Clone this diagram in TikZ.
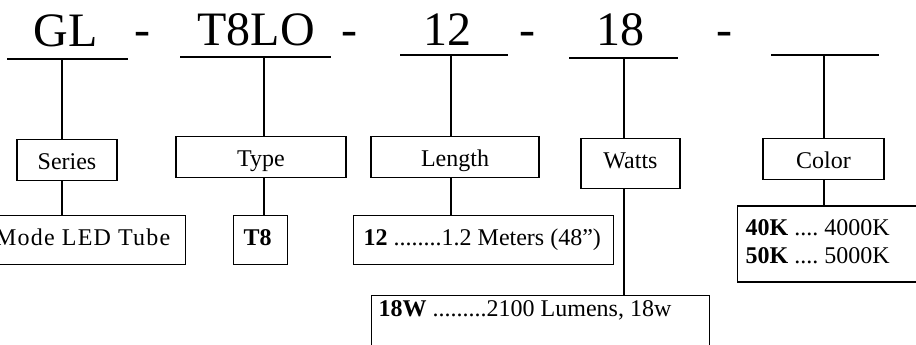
\documentclass[tikz,border=0pt]{standalone}
\usepackage{fontspec}
\setmainfont{Liberation Serif}
\usetikzlibrary{positioning, calc}
\frenchspacing

\begin{document}
\begin{tikzpicture}[x=1pt, y=-1pt, line width=1.4pt,
    code/.style={font=\fontsize{48}{56}\selectfont, inner sep=0pt, anchor=base},
    boxtext/.style={draw, font=\fontsize{24}{28}\selectfont\frenchspacing, inner ysep=0pt},
    labelbox/.style={boxtext, inner xsep=0pt, anchor=north, text height=30pt, text depth=11pt},
    descbox/.style={boxtext, inner xsep=10pt, anchor=north west, text height=30pt, text depth=19pt}]
    \useasboundingbox (0,0) rectangle (916,345);

    % Code
    \node[code] (gl) at (65.5,47) {GL};
    \node[code] (dash1) at (142,46) {-};
    \node[code] (t8lo) at (256,46) {T8LO};
    \node[code] (dash2) at (349,46) {-};
    \node[code] (twelve) at (447,46) {12};
    \node[code] (dash3) at (527,46) {-};
    \node[code] (eighteen) at (620,46) {18};
    \node[code] (dash4) at (724,46) {-};

    % Garis bawah
    \coordinate (gl-a) at (7,59);      \coordinate (gl-b) at (128,59);    \coordinate (gl-s) at (62,59);
    \coordinate (t8lo-a) at (180,57);  \coordinate (t8lo-b) at (331,57);  \coordinate (t8lo-s) at (264,57);
    \coordinate (len-a) at (400,55);   \coordinate (len-b) at (508,55);   \coordinate (len-s) at (451,55);
    \coordinate (watt-a) at (569,58);  \coordinate (watt-b) at (678,58);  \coordinate (watt-s) at (624,58);
    \coordinate (col-a) at (771,55);   \coordinate (col-b) at (879,55);   \coordinate (col-s) at (824,55);
    \draw (gl-a) -- (gl-b);
    \draw (t8lo-a) -- (t8lo-b);
    \draw (len-a) -- (len-b);
    \draw (watt-a) -- (watt-b);
    \draw (col-a) -- (col-b);

    % Kotak judul
    \node[labelbox, minimum width=100pt] (series) at (67,139) {Series};
    \node[labelbox, minimum width=170pt] (type) at (261,136) {Type};
    \node[labelbox, minimum width=168pt] (length) at (455,136) {Length};
    \node[labelbox, minimum width=99pt, text depth=20pt] (watts) at (630.5,138) {Watts};
    \node[labelbox, minimum width=121pt] (color) at (823.5,138) {Color};

    % Kotak keterangan
    \node[descbox, anchor=north east, inner xsep=15pt] (seriesdesc) at (186,215) {\addfontfeature{LetterSpace=5}Mode LED Tube};
    \node[descbox] (typedesc) at (233,215) {\makebox[34pt][l]{\textbf{T8}}};
    \node[descbox] (lengthdesc) at (353,215) {\makebox[240pt][l]{\textbf{12} ........1.2 Meters (48”)}};
    \node[descbox, inner xsep=7pt, text height=21pt, text depth=60pt] (wattsdesc) at (371,295) {\makebox[324pt][l]{\textbf{18W} .........2100 Lumens, 18w}};
    \node[boxtext, anchor=north west, inner xsep=8pt, inner ysep=10pt] (colordesc) at (737,205.4)
        {\makebox[200pt][l]{\begin{tabular}{@{}l@{}}\textbf{40K} .... 4000K\\\textbf{50K} .... 5000K\end{tabular}}};

    \draw (gl-s) -- (gl-s |- series.north);
    \draw (gl-s |- series.south) -- (gl-s |- seriesdesc.north);
    \draw (t8lo-s) -- (t8lo-s |- type.north);
    \draw (t8lo-s |- type.south) -- (t8lo-s |- typedesc.north);
    \draw (len-s) -- (len-s |- length.north);
    \draw (len-s |- length.south) -- (len-s |- lengthdesc.north);
    \draw (watt-s) -- (watt-s |- watts.north);
    \draw (watt-s |- watts.south) -- (watt-s |- wattsdesc.north);
    \draw (col-s) -- (col-s |- color.north);
    \draw (col-s |- color.south) -- (col-s |- colordesc.north);
\end{tikzpicture}
\end{document}
